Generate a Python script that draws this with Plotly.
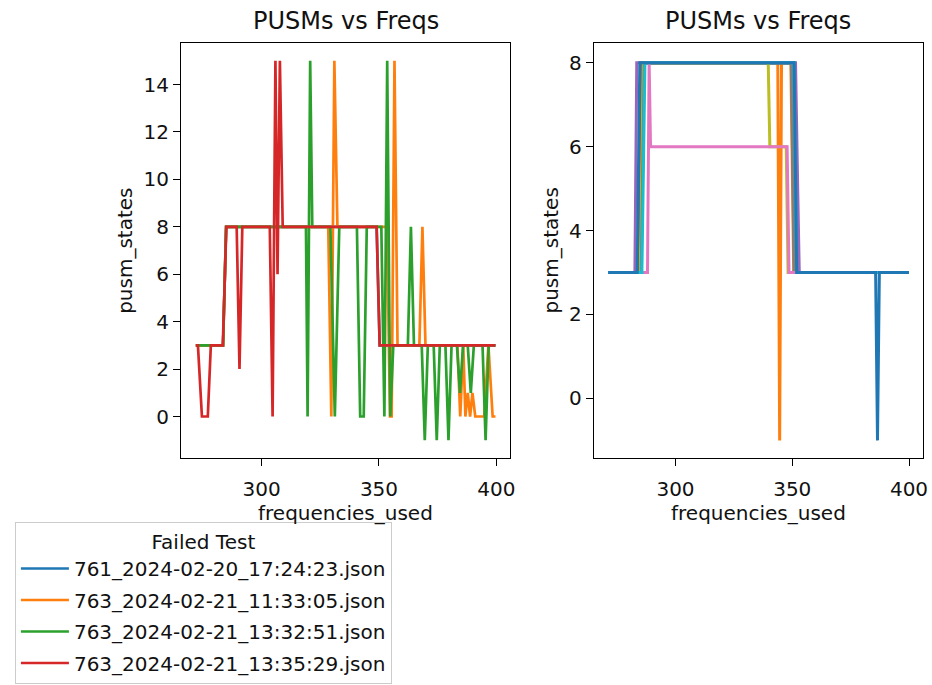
import plotly.graph_objects as go

# ---------------- data ----------------
legend_title = "Failed Test"
left_names = [
    "761_2024-02-20_17:24:23.json",
    "763_2024-02-21_11:33:05.json",
    "763_2024-02-21_13:32:51.json",
    "763_2024-02-21_13:35:29.json",
]

# left panel series (frequency, pusm state) vertices
blue_x = [272.0, 283.6, 284.9, 349.0, 350.3, 399.6]
blue_y = [3, 3, 8, 8, 3, 3]

orange_x = [272.0, 283.6, 284.9, 328.4, 329.7, 331.0, 332.3, 353.4, 354.7, 355.4,
            356.6, 357.9, 367.2, 368.5, 369.8, 383.4, 384.6, 385.9, 386.8, 387.8,
            388.8, 389.8, 391.0, 394.8, 396.6, 398.4, 399.6]
orange_y = [3, 3, 8, 8, 0, 15, 8, 8, 0, 0,
            15, 3, 3, 8, 3, 3, 0, 3, 0, 1,
            0, 1, 0, 0, 3, 0, 0]

green_x = [272.0, 283.6, 284.9, 318.9, 319.6, 320.7, 321.6, 329.3, 331.2, 333.1,
           340.6, 342.0, 343.5, 344.8, 351.0, 352.3, 353.5, 354.8, 356.1, 362.3,
           363.6, 364.9, 368.2, 369.5, 370.8, 373.3, 374.6, 375.9, 378.3, 379.6,
           380.9, 383.2, 384.5, 385.8, 387.8, 389.1, 390.4, 394.1, 395.4, 396.7,
           399.6]
green_y = [3, 3, 8, 8, 0, 15, 8, 8, 0, 8,
           8, 0, 0, 8, 8, 0, 15, 0, 3, 3,
           8, 3, 3, -1, 3, 3, -1, 3, 3, -1,
           3, 3, 1, 3, 3, 1, 3, 3, -1, 3,
           3]

red_x = [272.0, 272.9, 274.6, 277.1, 278.4, 283.5, 285.0, 289.4, 290.6, 291.8,
         303.5, 304.7, 305.9, 306.8, 307.8, 309.0, 349.0, 350.3, 399.6]
red_y = [3, 3, 0, 0, 3, 3, 8, 8, 2, 8,
         8, 0, 15, 6, 15, 8, 8, 3, 3]

# right panel series
r_blue_x = [271.2, 283.9, 285.2, 350.0, 351.3, 400.0]
r_blue_y = [3, 3, 8, 8, 3, 3]
r_orange_x = [271.2, 284.5, 285.8, 343.8, 344.6, 345.4, 349.4, 350.6, 400.0]
r_orange_y = [3, 3, 8, 8, -1, 8, 8, 3, 3]
r_green_x = [271.2, 284.2, 285.5, 350.2, 351.4, 400.0]
r_green_y = [3, 3, 8, 8, 3, 3]
r_red_x = [271.2, 285.0, 286.3, 349.8, 351.0, 400.0]
r_red_y = [3, 3, 8, 8, 3, 3]
r_purple_x = [271.2, 282.6, 283.4, 351.4, 352.4, 353.0, 400.0]
r_purple_y = [3, 3, 8, 8, 4.8, 3, 3]
r_brown_x = [271.2, 284.6, 285.9, 350.4, 351.6, 400.0]
r_brown_y = [3, 3, 8, 8, 3, 3]
r_olive_x = [271.2, 284.9, 286.2, 339.7, 340.4, 347.4, 348.2, 400.0]
r_olive_y = [3, 3, 8, 8, 6, 6, 3, 3]
r_gray_x = [271.2, 285.3, 286.6, 349.6, 350.8, 400.0]
r_gray_y = [3, 3, 8, 8, 3, 3]
r_pink_x = [271.2, 288.0, 288.7, 289.3, 347.8, 348.6, 400.0]
r_pink_y = [3, 3, 8, 6, 6, 3, 3]
r_cyan_x = [271.2, 285.6, 286.9, 350.7, 351.9, 400.0]
r_cyan_y = [3, 3, 8, 8, 3, 3]
r_blue2_x = [271.2, 283.6, 284.7, 350.8, 351.9, 385.7, 386.5, 387.3, 400.0]
r_blue2_y = [3, 3, 8, 8, 3, 3, -1, 3, 3]

x_ticks = [300, 350, 400]
left_y_ticks = [0, 2, 4, 6, 8, 10, 12, 14]
right_y_ticks = [0, 2, 4, 6, 8]

title_text = "PUSMs vs Freqs"
x_label = "frequencies_used"
y_label = "pusm_states"

# ---------------- styling ----------------
TAB = {"blue": "#1f77b4", "orange": "#ff7f0e", "green": "#2ca02c", "red": "#d62728",
       "purple": "#9467bd", "brown": "#8c564b", "pink": "#e377c2", "gray": "#7f7f7f",
       "olive": "#bcbd22", "cyan": "#17becf"}
W, H = 932, 685
FONT = "DejaVu Sans"
TXT = "#111111"


def fx(p):
    return p / W


def fy(p):
    return 1 - p / H


fig = go.Figure()

left_series = [(blue_x, blue_y, "blue"), (orange_x, orange_y, "orange"),
               (green_x, green_y, "green"), (red_x, red_y, "red")]
for (xs, ys, c), name in zip(left_series, left_names):
    fig.add_trace(go.Scatter(x=xs, y=ys, mode="lines", name=name, legendgroup=name,
                             line=dict(color=TAB[c], width=2.7),
                             xaxis="x", yaxis="y", hoverinfo="skip"))

right_series = [(r_blue_x, r_blue_y, "blue"), (r_orange_x, r_orange_y, "orange"),
                (r_green_x, r_green_y, "green"), (r_red_x, r_red_y, "red"),
                (r_purple_x, r_purple_y, "purple"), (r_brown_x, r_brown_y, "brown"),
                (r_olive_x, r_olive_y, "olive"), (r_gray_x, r_gray_y, "gray"),
                (r_pink_x, r_pink_y, "pink"), (r_cyan_x, r_cyan_y, "cyan"),
                (r_blue2_x, r_blue2_y, "blue")]
for xs, ys, c in right_series:
    fig.add_trace(go.Scatter(x=xs, y=ys, mode="lines", showlegend=False,
                             line=dict(color=TAB[c], width=3.0),
                             xaxis="x2", yaxis="y2", hoverinfo="skip"))

ax_common = dict(showline=True, mirror=True, linecolor="black", linewidth=1.2,
                 showgrid=False, zeroline=False, ticks="outside", ticklen=7,
                 tickwidth=1.2, tickcolor="black",
                 tickfont=dict(family=FONT, size=20, color=TXT))

L0, L1 = 182, 513
R0, R1 = 597, 928
T0, B0 = 43, 458

fig.update_layout(
    width=W, height=H,
    margin=dict(l=0, r=0, t=0, b=0),
    paper_bgcolor="white", plot_bgcolor="white",
    font=dict(family=FONT, size=20, color=TXT),
    xaxis=dict(domain=[fx(L0), fx(L1)], range=[265.7, 405.9], anchor="y",
               tickvals=x_ticks, ticklabelstandoff=6, **ax_common),
    yaxis=dict(domain=[fy(B0), fy(T0)], range=[-1.75, 15.75], anchor="x",
               tickvals=left_y_ticks, **ax_common),
    xaxis2=dict(domain=[fx(R0), fx(R1)], range=[265.0, 406.0], anchor="y2",
                tickvals=x_ticks, ticklabelstandoff=6, **ax_common),
    yaxis2=dict(domain=[fy(B0), fy(T0)], range=[-1.42, 8.47], anchor="x2",
                tickvals=right_y_ticks, **ax_common),
    showlegend=True,
    legend=dict(x=fx(15), y=fy(522), xanchor="left", yanchor="top",
                bgcolor="white", bordercolor="#cccccc", borderwidth=1,
                font=dict(family=FONT, size=20, color=TXT),
                title=dict(text=legend_title, side="top center",
                           font=dict(family=FONT, size=20, color=TXT)),
                itemwidth=48, tracegroupgap=2.5),
)

annotations = []
for c0, c1 in [(L0, L1), (R0, R1)]:
    annotations.append(dict(text=title_text, x=fx((c0 + c1) / 2), y=fy(21),
                            xref="paper", yref="paper", showarrow=False,
                            xanchor="center", yanchor="middle",
                            font=dict(family=FONT, size=24, color=TXT)))
    annotations.append(dict(text=x_label, x=fx((c0 + c1) / 2), y=fy(513),
                            xref="paper", yref="paper", showarrow=False,
                            xanchor="center", yanchor="middle",
                            font=dict(family=FONT, size=20, color=TXT)))
for xc in [125, 553]:
    annotations.append(dict(text=y_label, x=fx(xc), y=fy((T0 + B0) / 2),
                            xref="paper", yref="paper", showarrow=False,
                            textangle=-90, xanchor="center", yanchor="middle",
                            font=dict(family=FONT, size=20, color=TXT)))
fig.update_layout(annotations=annotations)

fig.write_html("out.html")
